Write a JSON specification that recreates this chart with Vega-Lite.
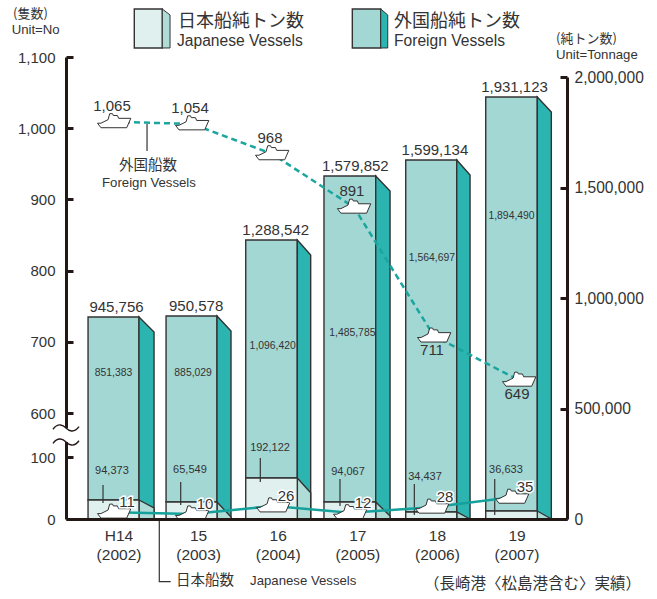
{
"$schema":"https://vega.github.io/schema/vega-lite/v6.json",
"width":501,"height":462,
"autosize":{"type":"none"},
"padding":{"left":66,"top":57,"right":90,"bottom":80},
"background":"white",
"config":{"view":{"stroke":null},"axis":{"grid":false},"numberFormat":","},
"datasets":{
"front":[
{"year":2002,"x":2001.68,"xEnd":2002.32,"top":914000,"jp":86000},
{"year":2003,"x":2002.66,"xEnd":2003.3,"top":918600,"jp":77000},
{"year":2004,"x":2003.661,"xEnd":2004.309,"top":1262500,"jp":185500},
{"year":2005,"x":2004.644,"xEnd":2005.294,"top":1552000,"jp":77000},
{"year":2006,"x":2005.671,"xEnd":2006.312,"top":1624500,"jp":31700},
{"year":2007,"x":2006.676,"xEnd":2007.324,"top":1909500,"jp":36200}],
"side":[
{"year":2002,"x":2002.32,"foreign":914000,"jp":86000},{"year":2002,"x":2002.509,"foreign":846000,"jp":49800},
{"year":2003,"x":2003.3,"foreign":918600,"jp":77000},{"year":2003,"x":2003.476,"foreign":850700,"jp":9000},
{"year":2004,"x":2004.309,"foreign":1262500,"jp":185500},{"year":2004,"x":2004.477,"foreign":1194600,"jp":119000},
{"year":2005,"x":2005.294,"foreign":1552000,"jp":77000},{"year":2005,"x":2005.474,"foreign":1484000,"jp":13600},
{"year":2006,"x":2006.312,"foreign":1624500,"jp":31700},{"year":2006,"x":2006.479,"foreign":1556600,"jp":0},
{"year":2007,"x":2007.324,"foreign":1909500,"jp":36200},{"year":2007,"x":2007.5,"foreign":1841600,"jp":0}],
"totals":[
{"x":2002,"at":914000,"text":"945,756"},{"x":2003,"at":918600,"text":"950,578"},{"x":2004,"at":1262500,"text":"1,288,542"},
{"x":2005,"at":1552000,"text":"1,579,852"},{"x":2006,"at":1624500,"text":"1,599,134"},{"x":2007,"at":1909500,"text":"1,931,123"}],
"foreignTons":[
{"x":2002,"at":660650,"text":"851,383"},{"x":2003,"at":660650,"text":"885,029"},{"x":2004,"at":782800,"text":"1,096,420"},
{"x":2005,"at":841650,"text":"1,485,785"},{"x":2006,"at":1181000,"text":"1,564,697"},{"x":2007,"at":1371000,"text":"1,894,490"}],
"japanTons":[
{"x":2001.98,"at":217200,"text":"94,373"},{"x":2002.96,"at":221700,"text":"65,549"},{"x":2003.966,"at":321300,"text":"192,122"},
{"x":2004.946,"at":212700,"text":"94,067"},{"x":2005.913,"at":190000,"text":"34,437"},{"x":2006.93,"at":221700,"text":"36,633"}],
"leaders":[
{"x":2001.868,"from":153900,"to":72400},{"x":2002.844,"from":167400,"to":63400},{"x":2003.844,"from":276000,"to":167400},
{"x":2004.845,"from":181000,"to":58800},{"x":2005.779,"from":158400,"to":18100},{"x":2006.789,"from":181000,"to":18100},
{"x":2002.421,"from":1787000,"to":1665000}],
"japanLeader":[{"x":2002.575,"y":0,"o":1},{"x":2002.575,"y":-283700,"o":2},{"x":2002.718,"y":-283700,"o":3}],
"legendFront":[{"x":2002.261,"xEnd":2002.613,"a":2307750,"b":2131300,"s":"jp"},{"x":2005.0,"xEnd":2005.357,"a":2307750,"b":2131300,"s":"foreign"}],
"legendSide":[
{"x":2002.613,"a":2307750,"b":2131300,"s":"jp"},{"x":2002.71,"a":2280600,"b":2131300,"s":"jp"},
{"x":2005.357,"a":2307750,"b":2131300,"s":"foreign"},{"x":2005.445,"a":2280600,"b":2131300,"s":"foreign"}],
"headings":[{"x":2002.81,"y":2248900,"text":"日本船純トン数"},{"x":2005.524,"y":2248900,"text":"外国船純トン数"}],
"headingsEn":[{"x":2002.798,"y":2163000,"text":"Japanese Vessels"},{"x":2005.524,"y":2163000,"text":"Foreign Vessels"}],
"smallJa":[{"x":2000.737,"y":2285000,"text":"(隻数)"},{"x":2007.559,"y":2172000,"text":"(純トン数)"}],
"smallEn":[{"x":2000.72,"y":2212700,"text":"Unit=No"},{"x":2007.559,"y":2099600,"text":"Unit=Tonnage"},{"x":2001.856,"y":1520400,"text":"Foreign Vessels"},{"x":2003.715,"y":-280500,"text":"Japanese Vessels"}],
"midJa":[{"x":2002.07,"y":1597300,"text":"外国船数"},{"x":2002.785,"y":-280500,"text":"日本船数"}],
"note":[{"x":2005.9,"y":-294000,"text":"（長崎港〈松島港含む〉実績）"}],
"foreignCount":[
{"x":2002.006,"plotted":1009,"text":"1,065"},{"x":2002.986,"plotted":1006,"text":"1,054"},{"x":2003.991,"plotted":964,"text":"968"},
{"x":2005.02,"plotted":889,"text":"891"},{"x":2006.026,"plotted":708,"text":"711"},{"x":2007.094,"plotted":646,"text":"649"}],
"japanCount":[
{"x":2002.006,"plotted":11,"text":"11"},{"x":2002.986,"plotted":8,"text":"10"},{"x":2004.004,"plotted":21,"text":"26"},
{"x":2004.971,"plotted":10,"text":"12"},{"x":2006.001,"plotted":19,"text":"28"},{"x":2007.006,"plotted":35,"text":"35"}],
"breakRule":[{"x":2001.403,"plotted":430,"low":270}],
"breakMark":[{"x":2001.403,"plotted":430},{"x":2001.403,"plotted":270}]
},
"encoding":{"x":{"field":"x","type":"quantitative","title":null,"scale":{"domain":[2001.403,2007.697],"nice":false,"zero":false}}},
"layer":[
{"layer":[
{"data":{"name":"front"},"mark":{"type":"rect","fill":"#a3d7d3","stroke":"#333","strokeWidth":1.4},
"encoding":{
"x":{"field":"x","type":"quantitative","title":null,"scale":{"domain":[2001.403,2007.697],"nice":false,"zero":false},
"axis":{"values":[2002,2003,2004,2005,2006,2007],"ticks":false,"domainWidth":3,"domainColor":"#231815","zindex":1,"labelOffset":5,"labelPadding":9,"labelFont":"Liberation Sans","labelFontSize":15.5,"labelColor":"#333","labelLineHeight":19,"labelFlush":false,"labelOverlap":false,"labelBound":false,"labelBaseline":"top","labelExpr":"[(datum.value==2002?'H14':''+(datum.value-1988)),'('+datum.value+')']"}},
"x2":{"field":"xEnd"},
"y":{"field":"top","type":"quantitative","title":null,"scale":{"domain":[0,2000000],"range":[462,20]},
"axis":{"orient":"right","values":[0,500000,1000000,1500000,2000000],"labelExpr":"format(datum.value,',')","tickSize":-7,"tickWidth":3,"tickColor":"#231815","domainWidth":3,"domainColor":"#231815","labelPadding":14,"labelFont":"Liberation Sans","labelFontSize":15.6,"labelColor":"#333","labelFlush":false,"labelOverlap":false,"labelBound":false}},
"y2":{"field":"jp"}}},
{"data":{"name":"side"},"mark":{"type":"area","orient":"vertical","fill":"#2cb5b0","stroke":"#333","strokeWidth":1.4},
"encoding":{"y":{"field":"foreign","type":"quantitative","title":null},"y2":{"datum":0},"detail":{"field":"year"}}},
{"data":{"name":"side"},"mark":{"type":"area","orient":"vertical","fill":"#b0dcd7","stroke":"#333","strokeWidth":1.4},
"encoding":{"y":{"field":"jp","type":"quantitative","title":null},"y2":{"datum":0},"detail":{"field":"year"}}},
{"data":{"name":"front"},"mark":{"type":"rect","fill":"#dff0ee","stroke":"#333","strokeWidth":1.4},
"encoding":{"x2":{"field":"xEnd"},"y":{"field":"jp","type":"quantitative","title":null},"y2":{"datum":0}}},
{"data":{"name":"legendFront"},"transform":[{"filter":"datum.s=='jp'"}],"mark":{"type":"rect","fill":"#dff0ee","stroke":"#333","strokeWidth":1.4},
"encoding":{"x2":{"field":"xEnd"},"y":{"field":"a","type":"quantitative","title":null},"y2":{"field":"b"}}},
{"data":{"name":"legendFront"},"transform":[{"filter":"datum.s=='foreign'"}],"mark":{"type":"rect","fill":"#a3d7d3","stroke":"#333","strokeWidth":1.4},
"encoding":{"x2":{"field":"xEnd"},"y":{"field":"a","type":"quantitative","title":null},"y2":{"field":"b"}}},
{"data":{"name":"legendSide"},"transform":[{"filter":"datum.s=='jp'"}],"mark":{"type":"area","orient":"vertical","fill":"#b0dcd7","stroke":"#333","strokeWidth":1},
"encoding":{"y":{"field":"a","type":"quantitative","title":null},"y2":{"field":"b"}}},
{"data":{"name":"legendSide"},"transform":[{"filter":"datum.s=='foreign'"}],"mark":{"type":"area","orient":"vertical","fill":"#2cb5b0","stroke":"#333","strokeWidth":1},
"encoding":{"y":{"field":"a","type":"quantitative","title":null},"y2":{"field":"b"}}},
{"data":{"name":"leaders"},"mark":{"type":"rule","stroke":"#333","strokeWidth":1.2},
"encoding":{"y":{"field":"from","type":"quantitative","title":null},"y2":{"field":"to"}}},
{"data":{"name":"japanLeader"},"mark":{"type":"line","stroke":"#333","strokeWidth":1.2},
"encoding":{"y":{"field":"y","type":"quantitative","title":null},"order":{"field":"o"}}},
{"data":{"name":"totals"},"mark":{"type":"text","font":"Liberation Sans","fontSize":15,"fill":"#333","baseline":"bottom","dx":3,"dy":-2},
"encoding":{"y":{"field":"at","type":"quantitative","title":null},"text":{"field":"text"}}},
{"data":{"name":"foreignTons"},"mark":{"type":"text","font":"Liberation Sans","fontSize":10.4,"fill":"#333","baseline":"middle"},
"encoding":{"y":{"field":"at","type":"quantitative","title":null},"text":{"field":"text"}}},
{"data":{"name":"japanTons"},"mark":{"type":"text","font":"Liberation Sans","fontSize":11,"fill":"#333","baseline":"middle"},
"encoding":{"y":{"field":"at","type":"quantitative","title":null},"text":{"field":"text"}}},
{"data":{"name":"headings"},"mark":{"type":"text","font":"Noto Sans CJK JP","fontSize":18,"fill":"#333","align":"left","baseline":"middle"},
"encoding":{"y":{"field":"y","type":"quantitative","title":null},"text":{"field":"text"}}},
{"data":{"name":"headingsEn"},"mark":{"type":"text","font":"Liberation Sans","fontSize":15.6,"fill":"#333","align":"left","baseline":"middle"},
"encoding":{"y":{"field":"y","type":"quantitative","title":null},"text":{"field":"text"}}},
{"data":{"name":"smallJa"},"mark":{"type":"text","font":"Noto Sans CJK JP","fontSize":13,"fill":"#333","align":"left","baseline":"middle"},
"encoding":{"y":{"field":"y","type":"quantitative","title":null},"text":{"field":"text"}}},
{"data":{"name":"smallEn"},"mark":{"type":"text","font":"Liberation Sans","fontSize":13.2,"fill":"#333","align":"left","baseline":"middle"},
"encoding":{"y":{"field":"y","type":"quantitative","title":null},"text":{"field":"text"}}},
{"data":{"name":"midJa"},"mark":{"type":"text","font":"Noto Sans CJK JP","fontSize":14.5,"fill":"#333","align":"left","baseline":"middle"},
"encoding":{"y":{"field":"y","type":"quantitative","title":null},"text":{"field":"text"}}},
{"data":{"name":"note"},"mark":{"type":"text","font":"Noto Sans CJK JP","fontSize":15.5,"fill":"#333","align":"left","baseline":"middle"},
"encoding":{"y":{"field":"y","type":"quantitative","title":null},"text":{"field":"text"}}}
]},
{"layer":[
{"data":{"name":"breakRule"},"mark":{"type":"rule","stroke":"white","strokeWidth":6},
"encoding":{"y":{"field":"plotted","type":"quantitative","title":null,"scale":{"domain":[0,100,600,1100],"range":[462,400,356,0]},
"axis":{"orient":"left","values":[0,100,600,700,800,900,1000,1100],"labelExpr":"format(datum.value,',')","tickSize":-7,"tickWidth":3,"tickColor":"#231815","domainWidth":3,"domainColor":"#231815","labelPadding":18,"labelFont":"Liberation Sans","labelFontSize":15,"labelColor":"#333","labelFlush":false,"labelOverlap":false,"labelBound":false}},
"y2":{"field":"low"}}},
{"data":{"name":"breakMark"},"mark":{"type":"point","filled":false,"fill":"transparent","fillOpacity":0,"stroke":"#231815","strokeWidth":1.4,"opacity":1,"size":676,"shape":"M-1,0.1 C-0.6,-0.45 -0.2,-0.2 0,0 C0.2,0.2 0.6,0.45 1,-0.1"},
"encoding":{"y":{"field":"plotted","type":"quantitative","title":null}}},
{"data":{"name":"foreignCount"},"mark":{"type":"line","stroke":"#1aa69f","strokeWidth":2.5,"strokeDash":[6,4]},
"encoding":{"y":{"field":"plotted","type":"quantitative","title":null}}},
{"data":{"name":"japanCount"},"mark":{"type":"line","stroke":"#15a19b","strokeWidth":2.5},
"encoding":{"y":{"field":"plotted","type":"quantitative","title":null}}},
{"data":{"name":"foreignCount"},"mark":{"type":"point","filled":true,"fill":"white","stroke":"#333","strokeWidth":1,"opacity":1,"size":1089,"shape":"M-1,0.085 L-0.79,0.36 L0.77,0.36 L1.02,-0.21 L0.28,-0.21 L0.21,-0.38 L-0.04,-0.38 L-0.09,-0.49 L-0.26,-0.49 L-0.36,-0.13 L-0.79,0.085 Z"},
"encoding":{"y":{"field":"plotted","type":"quantitative","title":null}}},
{"data":{"name":"japanCount"},"mark":{"type":"point","filled":true,"fill":"white","stroke":"#333","strokeWidth":1,"opacity":1,"size":1089,"shape":"M-1,0.085 L-0.79,0.36 L0.77,0.36 L1.02,-0.21 L0.28,-0.21 L0.21,-0.38 L-0.04,-0.38 L-0.09,-0.49 L-0.26,-0.49 L-0.36,-0.13 L-0.79,0.085 Z"},
"encoding":{"y":{"field":"plotted","type":"quantitative","title":null}}},
{"data":{"name":"foreignCount"},"transform":[{"filter":"datum.plotted>800"}],"mark":{"type":"text","font":"Liberation Sans","fontSize":15,"fill":"#333","baseline":"middle","dx":-2,"dy":-16},
"encoding":{"y":{"field":"plotted","type":"quantitative","title":null},"text":{"field":"text"}}},
{"data":{"name":"foreignCount"},"transform":[{"filter":"datum.plotted<800"}],"mark":{"type":"text","font":"Liberation Sans","fontSize":15,"fill":"#333","baseline":"middle","dx":-2,"dy":14},
"encoding":{"y":{"field":"plotted","type":"quantitative","title":null},"text":{"field":"text"}}},
{"data":{"name":"japanCount"},"mark":{"type":"text","font":"Liberation Sans","fontSize":15,"fill":"white","stroke":"white","strokeWidth":3,"baseline":"middle","dx":13,"dy":-10},
"encoding":{"y":{"field":"plotted","type":"quantitative","title":null},"text":{"field":"text"}}},
{"data":{"name":"japanCount"},"mark":{"type":"text","font":"Liberation Sans","fontSize":15,"fill":"#333","baseline":"middle","dx":13,"dy":-10},
"encoding":{"y":{"field":"plotted","type":"quantitative","title":null},"text":{"field":"text"}}}
]}
],
"resolve":{"scale":{"y":"independent"}}
}
